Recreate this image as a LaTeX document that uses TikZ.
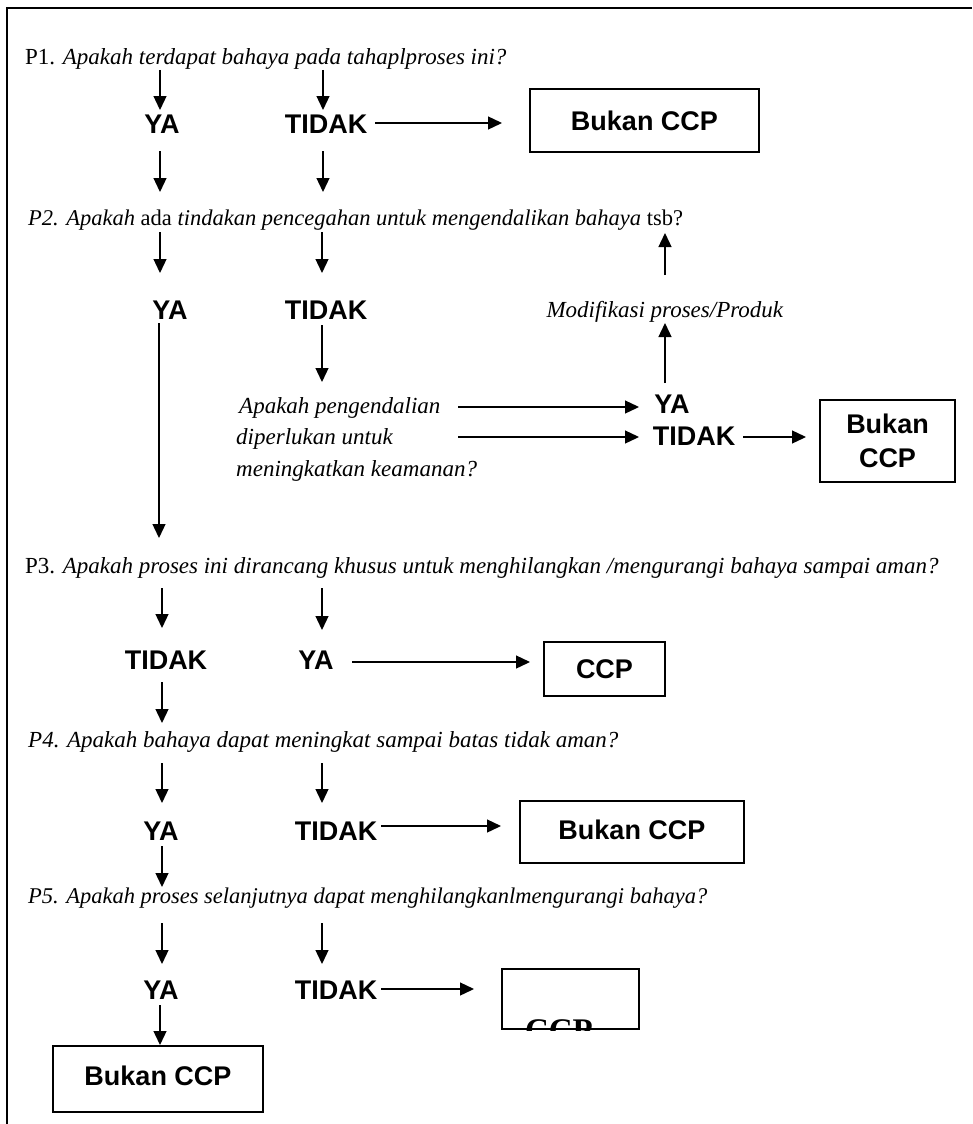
\documentclass[tikz,border=0pt]{standalone}
\usepackage{fontspec}
\setmainfont{Liberation Serif}
\newfontfamily\lsans{Liberation Sans}
\usetikzlibrary{arrows.meta,calc}
\tikzset{
  arr/.style={-{Triangle[length=14pt,width=13pt]}, line width=1.3pt},
  qtext/.style={anchor=base west, inner sep=0pt, font=\fontsize{23}{27}\selectfont},
  qsmall/.style={qtext, font=\fontsize{22.5}{27}\selectfont},
  lab/.style={anchor=base, inner sep=0pt, font=\lsans\bfseries\fontsize{27}{30}\selectfont},
  cbox/.style={draw, line width=1.6pt, inner sep=0pt, align=center, font=\lsans\bfseries\fontsize{27}{34}\selectfont},
}
\begin{document}
\begin{tikzpicture}[x=1pt,y=-1pt]
\useasboundingbox (0,0) rectangle (972,1124);
\draw[line width=2pt] (7,1124) -- (7,8) -- (972,8);

% questions
\node[qtext] (p1) at (25,64) {P1. \textit{Apakah terdapat bahaya pada tahaplproses ini?}};
\node[qsmall] (p2) at (28,225) {\textit{P2. Apakah} ada \textit{tindakan pencegahan untuk mengendalikan bahaya} tsb?};
\node[qtext, anchor=base] (mod) at (665,317) {\textit{Modifikasi proses/Produk}};
\node[qtext] (q2a) at (239,413) {\textit{Apakah pengendalian}};
\node[qtext] (q2b) at (236,444) {\textit{diperlukan untuk}};
\node[qtext] (q2c) at (236,476) {\textit{meningkatkan keamanan?}};
\node[qtext] (p3) at (25,573) {P3. \textit{Apakah proses ini dirancang khusus untuk menghilangkan /mengurangi bahaya sampai aman?}};
\node[qtext] (p4) at (28,747) {\textit{P4. Apakah bahaya dapat meningkat sampai batas tidak aman?}};
\node[qsmall] (p5) at (28,903) {\textit{P5. Apakah proses selanjutnya dapat menghilangkanlmengurangi bahaya?}};

% labels
\node[lab] (ya1) at (162,133) {YA};
\node[lab] (td1) at (326,133) {TIDAK};
\node[lab] (ya2) at (170,319) {YA};
\node[lab] (td2) at (326,319) {TIDAK};
\node[lab] (ya2r) at (672,413) {YA};
\node[lab] (td2r) at (694,445) {TIDAK};
\node[lab] (td3) at (166,669) {TIDAK};
\node[lab] (ya3) at (316,669) {YA};
\node[lab] (ya4) at (161,840) {YA};
\node[lab] (td4) at (336,840) {TIDAK};
\node[lab] (ya5) at (161,999) {YA};
\node[lab] (td5) at (336,999) {TIDAK};

% boxes
\node[cbox, minimum width=229pt, minimum height=63pt] (b1) at (644.5,120.5) {Bukan CCP};
\node[cbox, minimum width=135pt, minimum height=82pt] (b2) at (887.5,441) {Bukan\\CCP};
\node[cbox, minimum width=121pt, minimum height=54pt] (b3) at (604.5,669) {CCP};
\node[cbox, minimum width=224pt, minimum height=62pt] (b4) at (632,832) {\raisebox{4pt}{Bukan CCP}};
\node[cbox, minimum width=137pt, minimum height=60pt] (b5) at (570.5,999) {};
\node[cbox, minimum width=210pt, minimum height=66pt] (b6) at (158,1079) {\raisebox{6pt}{Bukan CCP}};
\begin{scope}
  \clip ([xshift=1pt,yshift=-1pt]b5.south west) rectangle ([xshift=-1pt,yshift=1pt]b5.north east);
  \node[anchor=north, inner sep=0pt, font=\bfseries\fontsize{33}{33}\selectfont] (b5t) at (559,1019) {CCP};
\end{scope}

% connector end points
\coordinate (a1s) at (160,70);  \coordinate (a1e) at (160,110);
\coordinate (a2s) at (323,70);  \coordinate (a2e) at (323,110);
\coordinate (h1s) at (375,123); \coordinate (h1e) at (502,123);
\coordinate (a3s) at (160,151); \coordinate (a3e) at (160,192);
\coordinate (a4s) at (323,151); \coordinate (a4e) at (323,192);
\coordinate (a5s) at (160,232); \coordinate (a5e) at (160,273);
\coordinate (a6s) at (322,232); \coordinate (a6e) at (322,273);
\coordinate (u1s) at (665,275); \coordinate (u1e) at (665,233);
\coordinate (l1s) at (159,323); \coordinate (l1e) at (159,538);
\coordinate (a7s) at (322,325); \coordinate (a7e) at (322,382);
\coordinate (u2s) at (665,383); \coordinate (u2e) at (665,323);
\coordinate (h2s) at (458,407); \coordinate (h2e) at (639,407);
\coordinate (h3s) at (458,437); \coordinate (h3e) at (639,437);
\coordinate (h4s) at (743,437); \coordinate (h4e) at (806,437);
\coordinate (a8s) at (162,588); \coordinate (a8e) at (162,628);
\coordinate (a9s) at (322,588); \coordinate (a9e) at (322,630);
\coordinate (h5s) at (352,662); \coordinate (h5e) at (530,662);
\coordinate (a10s) at (162,682); \coordinate (a10e) at (162,723);
\coordinate (a11s) at (162,763); \coordinate (a11e) at (162,803);
\coordinate (a12s) at (322,763); \coordinate (a12e) at (322,803);
\coordinate (h6s) at (381,826); \coordinate (h6e) at (501,826);
\coordinate (a13s) at (162,846); \coordinate (a13e) at (162,887);
\coordinate (a14s) at (162,923); \coordinate (a14e) at (162,964);
\coordinate (a15s) at (322,923); \coordinate (a15e) at (322,964);
\coordinate (h7s) at (381,989); \coordinate (h7e) at (474,989);
\coordinate (a16s) at (160,1005); \coordinate (a16e) at (160,1045);

\foreach \n in {a1,a2,h1,a3,a4,a5,a6,u1,l1,a7,u2,h2,h3,h4,a8,a9,h5,a10,a11,a12,h6,a13,a14,a15,h7,a16}
  \draw[arr] (\n s) -- (\n e);
\end{tikzpicture}
\end{document}
